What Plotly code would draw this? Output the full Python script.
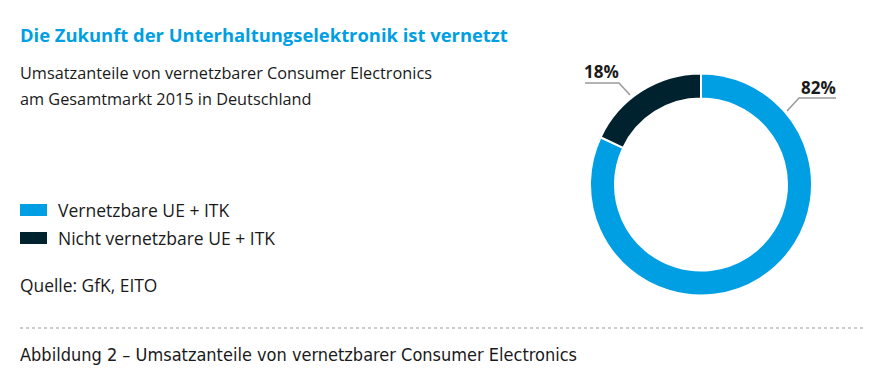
import plotly.graph_objects as go

labels = ["Vernetzbare UE + ITK", "Nicht vernetzbare UE + ITK"]
values = [82, 18]
colors = ["#009FE3", "#00222E"]
value_text = ["82%", "18%"]

title = "Die Zukunft der Unterhaltungselektronik ist vernetzt"
subtitle_lines = ["Umsatzanteile von vernetzbarer Consumer Electronics",
                  "am Gesamtmarkt 2015 in Deutschland"]
source = "Quelle: GfK, EITO"
caption = "Abbildung 2 – Umsatzanteile von vernetzbarer Consumer Electronics"

W, H = 871, 391
OFF = 8  # page body margin
FONT = "Open Sans"

def px(x):
    return (x - OFF) / W

def py(y):
    return 1 - (y - OFF) / H

fig = go.Figure()
fig.add_trace(go.Pie(
    labels=labels, values=values, hole=0.775, sort=False, direction="clockwise",
    rotation=0, marker=dict(colors=colors, line=dict(color="white", width=2)),
    textinfo="none", hoverinfo="label+percent", showlegend=False,
    domain=dict(x=[px(590), px(812)], y=[py(296), py(73)]),
))

annotations = [
    dict(text=f"<b>{title}</b>", x=px(18), y=py(35), xanchor="left", yanchor="middle",
         font=dict(family=FONT, size=18.4, color="#009FE3")),
    dict(text=source, x=px(18), y=py(285), xanchor="left", yanchor="middle",
         font=dict(family=FONT, size=17.4, color="#1a1a1a")),
    dict(text=caption, x=px(18), y=py(354), xanchor="left", yanchor="middle",
         font=dict(family="DejaVu Sans Condensed", size=18, color="#1a1a1a")),
    dict(text=f"<b>{value_text[1]}</b>", x=px(601), y=py(71), xanchor="center", yanchor="middle",
         font=dict(family=FONT, size=17, color="#1a1a1a")),
    dict(text=f"<b>{value_text[0]}</b>", x=px(818), y=py(88), xanchor="center", yanchor="middle",
         font=dict(family=FONT, size=17, color="#1a1a1a")),
]
for i, line in enumerate(subtitle_lines):
    annotations.append(dict(text=line, x=px(18), y=py(73 + i * 26), xanchor="left", yanchor="middle",
                            font=dict(family=FONT, size=16.3, color="#1a1a1a")))

shapes = []
# legend
for i, (lab, col) in enumerate(zip(labels, colors)):
    yc = 210 + i * 28
    shapes.append(dict(type="rect", xref="paper", yref="paper", x0=px(20), x1=px(47),
                       y0=py(yc + 6), y1=py(yc - 6), fillcolor=col, line=dict(width=0)))
    annotations.append(dict(text=lab, x=px(56), y=py(yc), xanchor="left", yanchor="middle",
                            font=dict(family=FONT, size=17.5, color="#1a1a1a")))

# leader lines
line_style = dict(color="#9a9a9a", width=1.5)
shapes.append(dict(type="path", xref="paper", yref="paper",
                   path=f"M {px(585)},{py(83)} L {px(619)},{py(83)} L {px(630)},{py(95)}",
                   line=line_style))
shapes.append(dict(type="path", xref="paper", yref="paper",
                   path=f"M {px(787)},{py(111)} L {px(799)},{py(98)} L {px(836)},{py(98)}",
                   line=line_style))
# dotted separator
shapes.append(dict(type="line", xref="paper", yref="paper", x0=px(20), x1=px(866),
                   y0=py(328), y1=py(328), line=dict(color="#999999", width=1, dash="dot")))

for a in annotations:
    a.update(xref="paper", yref="paper", showarrow=False)

fig.update_layout(width=W, height=H, margin=dict(l=0, r=0, t=0, b=0),
                  paper_bgcolor="white", plot_bgcolor="white",
                  annotations=annotations, shapes=shapes, showlegend=False)

fig.write_html("out.html")
